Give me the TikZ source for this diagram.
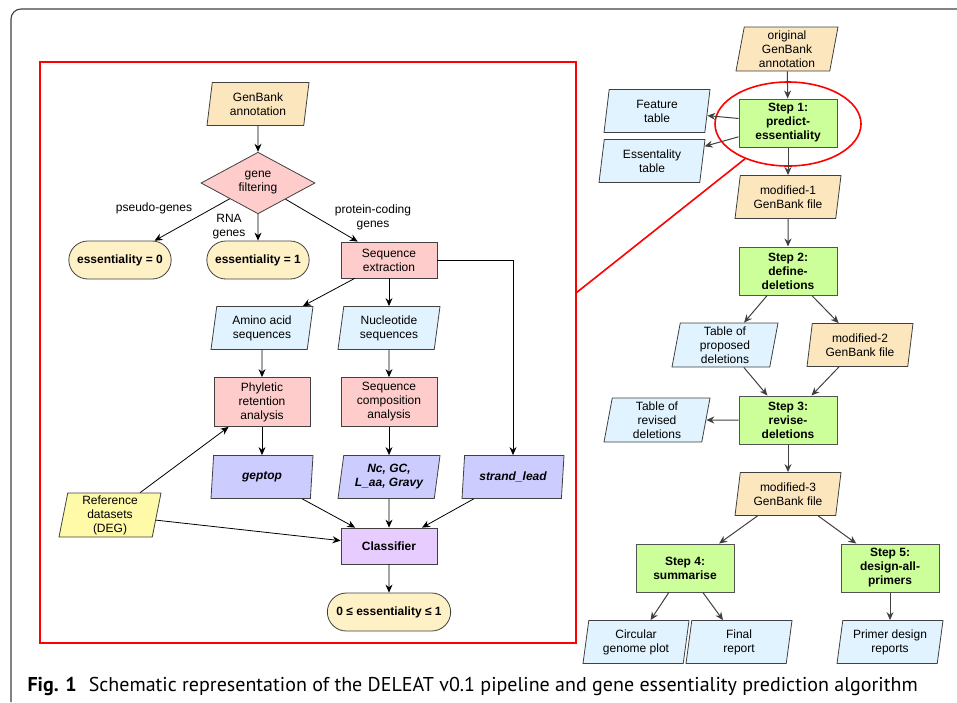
\documentclass[tikz,border=0pt]{standalone}
\usepackage{fontspec}
\setmainfont{Liberation Sans}
\newfontfamily\capfont{PT Sans}
\usepackage{xcolor}
\usepackage{tikz}
\usetikzlibrary{shapes.geometric,shapes.misc,arrows.meta}

\definecolor{peach}{HTML}{FCE6BE}
\definecolor{skyfill}{HTML}{E0F3FE}
\definecolor{pinkfill}{HTML}{FFCCCC}
\definecolor{lilac}{HTML}{CCCCFF}
\definecolor{mauve}{HTML}{E6CCFF}
\definecolor{lemon}{HTML}{FFFAA8}
\definecolor{cream}{HTML}{FFF1C6}
\definecolor{lime}{HTML}{CCFF99}
\definecolor{edge}{HTML}{404040}

\begin{document}
\begin{tikzpicture}[x=1pt,y=-1pt,
    every node/.style={font=\fontsize{12}{14}\selectfont, align=center},
    para/.style={trapezium, trapezium left angle=78, trapezium right angle=102,
        trapezium stretches body, draw=edge, line width=0.8pt,
        minimum width=102pt, minimum height=43pt, inner sep=1pt},
    proc/.style={rectangle, draw=edge, line width=0.8pt, fill=pinkfill,
        minimum width=96pt, minimum height=36pt, inner sep=1pt},
    stepbox/.style={rectangle, draw=edge!90, line width=1pt, fill=lime,
        minimum width=98pt, minimum height=48pt, inner sep=1pt,
        font=\fontsize{12}{14}\selectfont\bfseries},
    pill/.style={rounded rectangle, draw=edge, line width=0.8pt, fill=cream,
        minimum height=38pt, font=\fontsize{12}{14}\selectfont\bfseries},
    arr/.style={-{Stealth[length=8pt,width=7pt]}, line width=0.8pt, black},
    garr/.style={-{Stealth[length=8pt,width=7pt]}, line width=1pt, edge}]
    \useasboundingbox (0,0) rectangle (957,702);

    % Outer frame
    \draw[edge, line width=1.1pt, rounded corners=10pt] (11,702) -- (11,9) -- (957,9);

    % Zoomed region
    \draw[red, line width=1.6pt] (40,62) rectangle (576,643);
    \node[ellipse, draw=red, line width=1.6pt, minimum width=146pt, minimum height=84pt,
        inner sep=0pt] (zoomring) at (788,124) {};
    \coordinate (boxhook) at (576,293);
    \draw[red, line width=1.6pt] (zoomring.219) -- (boxhook);

    % Essentiality algorithm
    \node[para, fill=peach] (genbank) at (258,104) {GenBank\\annotation};
    \node[diamond, draw=edge, line width=0.8pt, fill=pinkfill, inner sep=0pt,
        minimum width=114pt, minimum height=57pt] (filter) at (258,183) {gene\\filtering};
    \node[pill, minimum width=109pt] (ess0) at (120,260) {essentiality = 0};
    \node[pill, minimum width=109pt] (ess1) at (258,260) {essentiality = 1};
    \node[proc] (seqext) at (389,260) {Sequence\\extraction};
    \node[para, fill=skyfill] (aaseq) at (262,328) {Amino acid\\sequences};
    \node[para, fill=skyfill] (ntseq) at (389,328) {Nucleotide\\sequences};
    \node[proc, minimum height=49pt] (phyl) at (262,402) {Phyletic\\retention\\analysis};
    \node[proc, minimum height=49pt] (comp) at (389,402) {Sequence\\composition\\analysis};
    \node[para, fill=lilac, font=\fontsize{12}{14}\selectfont\bfseries\itshape] (geptop) at (262,477) {geptop};
    \node[para, fill=lilac, font=\fontsize{12}{14}\selectfont\bfseries\itshape] (ncgc) at (389,477) {Nc, GC,\\L\_aa, Gravy};
    \node[para, fill=lilac, font=\fontsize{12}{14}\selectfont\bfseries\itshape] (strand) at (513,477) {strand\_lead};
    \node[para, fill=lemon, minimum height=44pt] (refdata) at (110,515) {Reference\\datasets\\(DEG)};
    \node[proc, fill=mauve, font=\fontsize{12}{14}\selectfont\bfseries] (classif) at (389,546) {Classifier};
    \node[pill, minimum width=130pt] (score) at (389,612) {0 ≤ essentiality ≤ 1};

    \draw[arr] (genbank) -- (filter);
    \draw[arr] (filter) -- (ess0);
    \draw[arr] (filter) -- (ess1);
    \draw[arr] (filter) -- (seqext);
    \node (lpseudo) at (154,208) {pseudo-genes};
    \node (lrna) at (229,227) {RNA\\genes};
    \node (lprot) at (373,217) {protein-coding\\genes};
    \draw[arr] (seqext) -- (aaseq);
    \draw[arr] (seqext) -- (ntseq);
    \draw[arr] (seqext.east) -| (strand.north);
    \draw[arr] (aaseq) -- (phyl);
    \draw[arr] (ntseq) -- (comp);
    \draw[arr] (phyl) -- (geptop);
    \draw[arr] (comp) -- (ncgc);
    \draw[arr] (refdata) -- (phyl);
    \draw[arr] (refdata) -- (classif);
    \draw[arr] (geptop) -- (classif);
    \draw[arr] (ncgc) -- (classif);
    \draw[arr] (strand) -- (classif);
    \draw[arr] (classif) -- (score);

    % DELEAT pipeline
    \node[para, fill=peach, minimum height=44pt] (orig) at (787,49) {original\\GenBank\\annotation};
    \node[stepbox] (step1) at (788,123) {Step 1:\\predict-\\essentiality};
    \node[para, fill=skyfill, minimum width=106pt] (feat) at (657,111) {Feature\\table};
    \node[para, fill=skyfill, minimum width=106pt] (esstab) at (652,161) {Essentality\\table};
    \node[para, fill=peach, minimum width=106pt] (mod1) at (788,197) {modified-1\\GenBank file};
    \node[stepbox] (step2) at (788,271) {Step 2:\\define-\\deletions};
    \node[para, fill=skyfill, minimum width=106pt, minimum height=44pt] (proptab) at (725,345) {Table of\\proposed\\deletions};
    \node[para, fill=peach, minimum width=106pt] (mod2) at (860,345) {modified-2\\GenBank file};
    \node[stepbox] (step3) at (788,420) {Step 3:\\revise-\\deletions};
    \node[para, fill=skyfill, minimum width=106pt, minimum height=44pt] (revtab) at (657,420) {Table of\\revised\\deletions};
    \node[para, fill=peach, minimum width=106pt] (mod3) at (788,494) {modified-3\\GenBank file};
    \node[stepbox] (step4) at (685,568) {Step 4:\\summarise};
    \node[stepbox] (step5) at (890,568) {Step 5:\\design-all-\\primers};
    \node[para, fill=skyfill, minimum width=106pt] (circ) at (636,642) {Circular\\genome plot};
    \node[para, fill=skyfill, minimum width=106pt] (final) at (739,642) {Final\\report};
    \node[para, fill=skyfill, minimum width=106pt] (primer) at (890,642) {Primer design\\reports};

    \draw[garr] (orig) -- (step1);
    \draw[garr] (step1) -- (feat);
    \draw[garr] (step1) -- (esstab);
    \draw[garr] (step1) -- (mod1);
    \draw[garr] (mod1) -- (step2);
    \draw[garr] (step2) -- (proptab);
    \draw[garr] (step2) -- (mod2);
    \draw[garr] (proptab) -- (step3);
    \draw[garr] (mod2) -- (step3);
    \draw[garr] (step3) -- (revtab);
    \draw[garr] (step3) -- (mod3);
    \draw[garr] (mod3) -- (step4);
    \draw[garr] (mod3) -- (step5);
    \draw[garr] (step4) -- (circ);
    \draw[garr] (step4) -- (final);
    \draw[garr] (step5) -- (primer);

    % Caption
    \node[anchor=west, font=\capfont\fontsize{20}{23}\selectfont] (caption) at (24,686)
        {\textbf{Fig. 1}\hspace{0.6em}Schematic representation of the DELEAT v0.1 pipeline and gene essentiality prediction algorithm};
\end{tikzpicture}
\end{document}
